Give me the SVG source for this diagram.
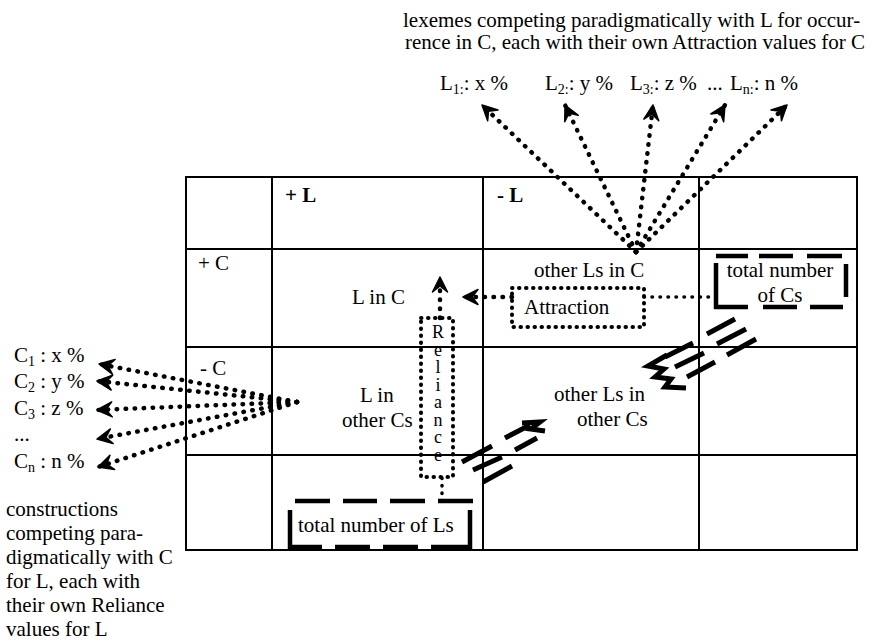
<svg xmlns="http://www.w3.org/2000/svg" width="879" height="642" viewBox="0 0 879 642">
<style>
.t{font-family:"Liberation Serif","Times New Roman",serif;font-size:21px;fill:#000}
.b{font-weight:bold}
.sub{font-size:14px}
.vert{font-size:18px;writing-mode:vertical-rl;text-orientation:upright;letter-spacing:-2.5px}
.grid{stroke:#000;stroke-width:2;fill:none}
.dot{stroke:#000;stroke-width:4.5;stroke-linecap:round;stroke-dasharray:0.5 8.5;fill:none}
.dotbox{stroke:#000;stroke-width:4;stroke-linecap:round;stroke-dasharray:0.5 6.5;fill:none}
.dash{stroke:#000;stroke-width:4.5;fill:none;stroke-linecap:butt}
.stripe{stroke:#000;stroke-width:5;fill:none;stroke-linecap:butt;stroke-linejoin:miter}
</style>
<defs>
<marker id="ah" markerUnits="userSpaceOnUse" markerWidth="20" markerHeight="20" viewBox="-18 -10 20 20" refX="0" refY="0" orient="auto">
<path d="M0,0 L-15,-7.5 L-9,0 L-15,7.5 Z" fill="#000" stroke="#000" stroke-width="1.5" stroke-linejoin="round"/>
</marker>
</defs>
<rect width="879" height="642" fill="#fff"/>

<g id="table">
<rect class="grid" x="186" y="177" width="671" height="373"/>
<path class="grid" d="M272,177V550 M483,177V550 M699,177V550 M186,249H857 M186,347H857 M186,455H857"/>
</g>

<g id="top-caption">
<text class="t" x="403" y="27">lexemes competing paradigmatically with L for occur-</text>
<text class="t" x="405" y="49">rence in C, each with their own Attraction values for C</text>
</g>
<g id="L-values">
<text class="t" x="440" y="90">L<tspan class="sub" dy="4">1:</tspan><tspan dy="-4">: x %</tspan></text>
<text class="t" x="545" y="90">L<tspan class="sub" dy="4">2:</tspan><tspan dy="-4">: y %</tspan></text>
<text class="t" x="630" y="90">L<tspan class="sub" dy="4">3:</tspan><tspan dy="-4">: z %</tspan></text>
<text class="t" x="707" y="90">...</text>
<text class="t" x="730" y="90">L<tspan class="sub" dy="4">n:</tspan><tspan dy="-4">: n %</tspan></text>
</g>
<g id="C-values">
<text class="t" x="14" y="362">C<tspan class="sub" dy="4">1</tspan><tspan dy="-4"> : x %</tspan></text>
<text class="t" x="14" y="388">C<tspan class="sub" dy="4">2</tspan><tspan dy="-4"> : y %</tspan></text>
<text class="t" x="14" y="415">C<tspan class="sub" dy="4">3</tspan><tspan dy="-4"> : z %</tspan></text>
<text class="t" x="14" y="441">...</text>
<text class="t" x="14" y="468">C<tspan class="sub" dy="4">n</tspan><tspan dy="-4"> : n %</tspan></text>
</g>
<g id="bottom-caption">
<text class="t" x="6" y="516">constructions</text>
<text class="t" x="6" y="540">competing para-</text>
<text class="t" x="6" y="564">digmatically with C</text>
<text class="t" x="6" y="588">for L, each with</text>
<text class="t" x="6" y="612">their own Reliance</text>
<text class="t" x="6" y="636">values for L</text>
</g>

<g id="headers">
<text class="t b" x="285" y="202">+ L</text>
<text class="t b" x="497" y="202">- L</text>
<text class="t" x="198" y="270">+ C</text>
<text class="t" x="200" y="375">- C</text>
</g>
<g id="cell-LC"><text class="t" x="352" y="304">L in C</text></g>
<g id="cell-L-otherC"><text class="t" x="360" y="402">L in</text><text class="t" x="342" y="427">other Cs</text></g>
<g id="cell-otherL-C"><text class="t" x="534" y="277">other Ls in C</text></g>
<g id="cell-otherL-otherC"><text class="t" x="554" y="401">other Ls in</text><text class="t" x="577" y="426">other Cs</text></g>

<g id="attraction">
<rect class="dotbox" x="512" y="288" width="132" height="39" fill="#fff"/>
<text class="t" x="524" y="314">Attraction</text>
</g>
<g id="reliance">
<rect class="dotbox" x="421" y="318" width="32" height="159" fill="#fff"/>
<text class="t vert" x="438" y="322">Reliance</text>
</g>
<g id="total-Cs">
<path class="dash" d="M716,256H748 M759,256H793 M807,256H842 M846,264V297 M843,307H810 M797,307H763 M748,307H716V263"/>
<text class="t" x="780" y="277" text-anchor="middle">total number</text>
<text class="t" x="780" y="302" text-anchor="middle">of Cs</text>
</g>
<g id="total-Ls">
<path class="dash" d="M295,501H330 M343,501H377 M390,501H425 M438,501H473 M290,510V547H322 M335,547H370 M383,547H418 M431,547H470V510"/>
<text class="t" x="298" y="532">total number of Ls</text>
</g>

<g id="connectors">
<path class="dot" marker-end="url(#ah)" d="M636,252L482,105"/>
<path class="dot" marker-end="url(#ah)" d="M636,252L565,105"/>
<path class="dot" marker-end="url(#ah)" d="M636,252L653,105"/>
<path class="dot" marker-end="url(#ah)" d="M636,252L725,105"/>
<path class="dot" marker-end="url(#ah)" d="M636,252L787,105"/>
<path class="dot" marker-end="url(#ah)" d="M297,402L99,364"/>
<path class="dot" marker-end="url(#ah)" d="M297,402L97,381"/>
<path class="dot" marker-end="url(#ah)" d="M297,402L97,410"/>
<path class="dot" marker-end="url(#ah)" d="M297,402L97,439"/>
<path class="dot" marker-end="url(#ah)" d="M297,402L98,467"/>
<path class="dot" marker-end="url(#ah)" d="M512,297H463"/>
<path class="dot" style="stroke-width:3.5;stroke-dasharray:0.5 7.5" d="M644,297H716"/>
<path class="dot" marker-end="url(#ah)" d="M440,318V277"/>
<path class="dot" style="stroke-width:3.5;stroke-dasharray:0.5 7" d="M442,478V501"/>
<g id="striped-arrow-down">
<path class="stripe" d="M665,357L693,343 M707,334L735,319 M675,367L704,353 M717,344L746,329 M687,377L715,362 M727,355L756,339"/>
<path class="stripe" d="M667,355L648,366L664,369L655,377L671,379L665,387L686,388"/>
</g>
<g id="striped-arrow-up">
<path class="stripe" d="M462,462L492,446 M505,438L530,425 M473,470L502,457 M515,450L537,438 M483,482L512,466"/>
<path class="stripe" d="M522,423L540,422L531,429L545,431"/>
</g>
</g>
</svg>
